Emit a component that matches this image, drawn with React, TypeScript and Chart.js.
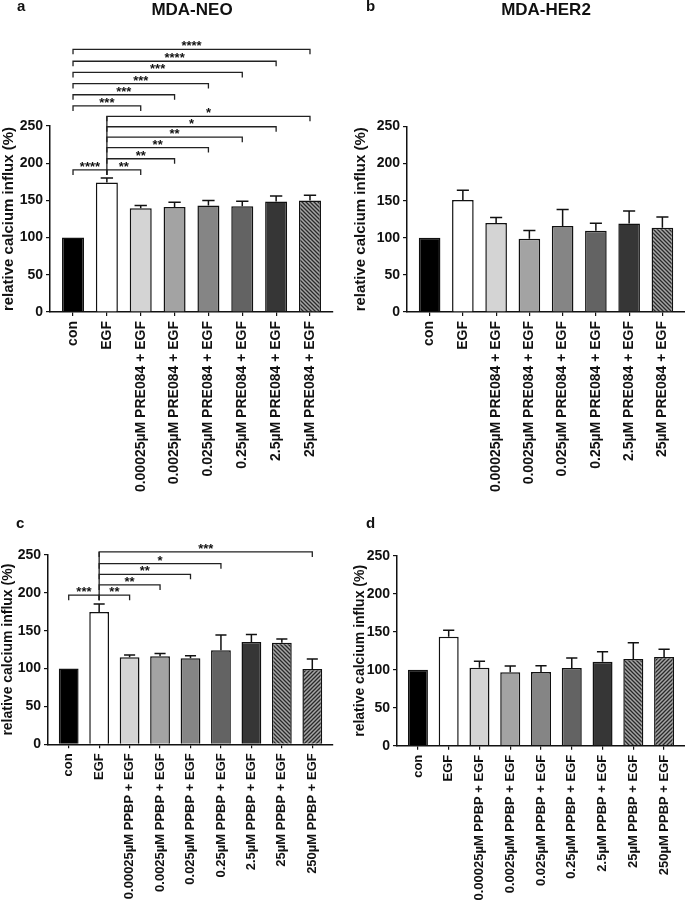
import React, { useEffect, useRef } from 'react';
import { Chart, registerables } from 'chart.js';

Chart.register(...registerables);

const FONT = "'Liberation Sans', Arial, sans-serif";

// ---------- data ----------
const labelsPre = [
  'con',
  'EGF',
  '0.00025µM PRE084 + EGF',
  '0.0025µM PRE084 + EGF',
  '0.025µM PRE084 + EGF',
  '0.25µM PRE084 + EGF',
  '2.5µM PRE084 + EGF',
  '25µM PRE084 + EGF',
];
const labelsPpbp = [
  'con',
  'EGF',
  '0.00025µM PPBP + EGF',
  '0.0025µM PPBP + EGF',
  '0.025µM PPBP + EGF',
  '0.25µM PPBP + EGF',
  '2.5µM PPBP + EGF',
  '25µM PPBP + EGF',
  '250µM PPBP + EGF',
];

const valuesA = [100, 174, 139.5, 141, 143, 142, 148.5, 150];
const errorsA = [0, 6, 3.5, 6.5, 7, 7, 7.5, 7];
const valuesB = [100, 151, 120, 98.6, 116, 109.5, 119.4, 113.5];
const errorsB = [0, 13, 7.2, 11.4, 22, 10, 16.6, 14.5];
const valuesC = [100, 174.7, 115, 116.2, 113.6, 124.1, 135.1, 134.2, 99.5];
const errorsC = [0, 10.6, 3, 3.8, 3.4, 20.3, 10, 4.8, 13.2];
const valuesD = [100, 143.7, 102.8, 96.7, 97.1, 102.4, 110.7, 114.2, 116.9];
const errorsD = [0, 8.3, 8.4, 8.3, 8.3, 13.2, 13.2, 21.6, 10.1];

// significance brackets: [from, to, value level, label]
const bracketsA: [number, number, number, string][] = [
  [0, 1, 191, '****'],
  [1, 2, 191, '**'],
  [1, 3, 206, '**'],
  [1, 4, 221, '**'],
  [1, 5, 235, '**'],
  [1, 6, 249, '*'],
  [1, 7, 263, '*'],
  [0, 2, 277, '***'],
  [0, 3, 292, '***'],
  [0, 4, 307, '***'],
  [0, 5, 322, '***'],
  [0, 6, 337, '****'],
  [0, 7, 353, '****'],
];
const bracketsC: [number, number, number, string][] = [
  [0, 1, 197, '***'],
  [1, 2, 197, '**'],
  [1, 3, 210.5, '**'],
  [1, 4, 224.5, '**'],
  [1, 5, 238.6, '*'],
  [1, 8, 254, '***'],
];
const noBrackets: [number, number, number, string][] = [];

const yMin = 0;
const yMax = 250;
const yStep = 25;
const yLabelStep = 50;
const yTitle = 'relative calcium influx (%)';

// ---------- styles ----------
const fillsPre = ['#000000', '#ffffff', '#d4d4d4', '#a3a3a3', '#858585', '#636363', '#363636', 'hatchBack'];
const fillsPpbp = ['#000000', '#ffffff', '#d4d4d4', '#a3a3a3', '#858585', '#636363', '#363636', 'hatchBack', 'hatchFwd'];

type PanelProps = {
  left: number; top: number; width: number; height: number;
  padTop: number; padRight: number; yWidth: number; xHeight: number;
  labels: string[]; values: number[]; errors: number[];
  brackets: [number, number, number, string][];
  fills: string[]; tickSize: number; xSize: number; titleSize: number; titlePad: number;
};

function makeHatch(ctx: CanvasRenderingContext2D, fwd: boolean) {
  const c = document.createElement('canvas');
  c.width = 4; c.height = 4;
  const g = c.getContext('2d')!;
  g.fillStyle = '#a6a6a6';
  g.fillRect(0, 0, 4, 4);
  g.strokeStyle = '#2a2a2a';
  g.lineWidth = 1.3;
  g.beginPath();
  if (!fwd) {
    g.moveTo(-1, -1); g.lineTo(5, 5);
    g.moveTo(-1, 3); g.lineTo(1, 5);
    g.moveTo(3, -1); g.lineTo(5, 1);
  } else {
    g.moveTo(-1, 5); g.lineTo(5, -1);
    g.moveTo(-1, 1); g.lineTo(1, -1);
    g.moveTo(3, 5); g.lineTo(5, 3);
  }
  g.stroke();
  return ctx.createPattern(c, 'repeat')!;
}

function Panel(p: PanelProps) {
  const ref = useRef<HTMLCanvasElement>(null);
  useEffect(() => {
    const canvas = ref.current!;
    const ctx = canvas.getContext('2d')!;
    const fills = p.fills.map((f) =>
      f === 'hatchBack' ? makeHatch(ctx, false) : f === 'hatchFwd' ? makeHatch(ctx, true) : f
    );
    const n = p.labels.length;
    const overlay = {
      id: 'overlay',
      afterDatasetsDraw(chart: any) {
        const c = chart.ctx as CanvasRenderingContext2D;
        const xs = chart.scales.x;
        const ys = chart.scales.y;
        const meta = chart.getDatasetMeta(0);
        c.save();
        // error bars
        c.strokeStyle = '#111';
        c.lineWidth = 1.5;
        p.values.forEach((v, i) => {
          if (!p.errors[i]) return;
          const px = xs.getPixelForValue(i);
          const y0 = ys.getPixelForValue(v);
          const y1 = ys.getPixelForValue(v + p.errors[i]);
          const half = meta.data[i].width * 0.28;
          c.beginPath();
          c.moveTo(px, y0);
          c.lineTo(px, y1);
          c.moveTo(px - half, y1);
          c.lineTo(px + half, y1);
          c.stroke();
        });
        // brackets
        c.strokeStyle = '#222';
        c.lineWidth = 1.3;
        c.fillStyle = '#111';
        c.font = `bold 13px ${FONT}`;
        c.textAlign = 'center';
        c.textBaseline = 'alphabetic';
        const leg = 5;
        p.brackets.forEach(([a, b, lvl, t]) => {
          const x1 = xs.getPixelForValue(a);
          const x2 = xs.getPixelForValue(b);
          const yy = ys.getPixelForValue(lvl);
          c.beginPath();
          c.moveTo(x1, yy + leg);
          c.lineTo(x1, yy);
          c.lineTo(x2, yy);
          c.lineTo(x2, yy + leg);
          c.stroke();
          c.fillText(t, (x1 + x2) / 2, yy + 1);
        });
        // spine joining brackets that start from EGF
        const egf = p.brackets.filter((br) => br[0] === 1).map((br) => br[2]);
        if (egf.length > 1) {
          const px = xs.getPixelForValue(1);
          c.beginPath();
          c.moveTo(px, ys.getPixelForValue(Math.max(...egf)));
          c.lineTo(px, ys.getPixelForValue(Math.min(...egf)) + leg);
          c.stroke();
        }
        c.restore();
      },
    };
    const chart = new Chart(canvas, {
      type: 'bar',
      data: {
        datasets: [
          {
            data: p.values.map((v, i) => ({ x: i, y: v })),
            backgroundColor: fills as any,
            borderColor: '#111',
            borderWidth: 1.5,
            borderSkipped: 'start',
            categoryPercentage: 1,
            barPercentage: 0.65,
          } as any,
        ],
      },
      options: {
        responsive: false,
        animation: false,
        devicePixelRatio: 1,
        layout: { padding: { top: p.padTop, right: p.padRight, left: 0, bottom: 0 } },
        plugins: {
          legend: { display: false },
          tooltip: { enabled: false },
          title: { display: false },
        },
        scales: {
          x: {
            type: 'linear',
            min: -0.68,
            max: n - 1 + 0.68,
            offset: false,
            afterBuildTicks: (s: any) => {
              s.ticks = p.labels.map((_, i) => ({ value: i }));
            },
            afterFit: (s: any) => {
              s.height = p.xHeight;
            },
            ticks: {
              autoSkip: false,
              minRotation: 90,
              maxRotation: 90,
              padding: 5,
              color: '#111',
              font: { family: FONT, size: p.xSize, weight: 'bold' },
              callback: (_v: any, i: number) => p.labels[i],
            },
            grid: {
              drawOnChartArea: false,
              drawTicks: true,
              tickLength: 4,
              color: '#111',
              lineWidth: 1.2,
              offset: false,
            },
            border: { display: true, color: '#111', width: 1.5 },
          } as any,
          y: {
            type: 'linear',
            min: yMin,
            max: yMax,
            afterFit: (s: any) => {
              s.width = p.yWidth;
            },
            ticks: {
              stepSize: yStep,
              padding: 3,
              color: '#111',
              font: { family: FONT, size: p.tickSize, weight: 'bold' },
              callback: (v: any) => (Number(v) % yLabelStep === 0 ? String(v) : ''),
            },
            grid: {
              drawOnChartArea: false,
              drawTicks: true,
              tickLength: 4,
              color: '#111',
              lineWidth: 1.2,
            },
            border: { display: true, color: '#111', width: 1.5 },
            title: {
              display: true,
              text: yTitle,
              color: '#111',
              font: { family: FONT, size: p.titleSize, weight: 'bold' },
              padding: { top: p.titlePad, bottom: 0 },
            },
          } as any,
        },
      },
      plugins: [overlay],
    });
    return () => chart.destroy();
  }, []);
  return (
    <canvas
      ref={ref}
      width={p.width}
      height={p.height}
      style={{ position: 'absolute', left: p.left, top: p.top, width: p.width, height: p.height }}
    />
  );
}

const textStyle = (left: number, top: number, size: number, extra: any = {}) => ({
  position: 'absolute' as const,
  left,
  top,
  fontFamily: FONT,
  fontWeight: 'bold' as const,
  fontSize: size,
  lineHeight: `${size}px`,
  color: '#111',
  whiteSpace: 'nowrap' as const,
  ...extra,
});

export default function App() {
  return (
    <div style={{ position: 'absolute', left: 0, top: 0, width: 685, height: 905, background: '#fff', overflow: 'hidden' }}>
      <Panel left={0} top={0} width={340} height={500} padTop={126} padRight={7} yWidth={50} xHeight={188}
        labels={labelsPre} values={valuesA} errors={errorsA} brackets={bracketsA} fills={fillsPre}
        tickSize={14} xSize={14} titleSize={15} titlePad={0} />
      <Panel left={340} top={0} width={345} height={500} padTop={126.5} padRight={0} yWidth={67} xHeight={188}
        labels={labelsPre} values={valuesB} errors={errorsB} brackets={noBrackets} fills={fillsPre}
        tickSize={14} xSize={14} titleSize={15} titlePad={12} />
      <Panel left={0} top={500} width={340} height={405} padTop={55} padRight={7} yWidth={48} xHeight={160.7}
        labels={labelsPpbp} values={valuesC} errors={errorsC} brackets={bracketsC} fills={fillsPpbp}
        tickSize={14} xSize={13} titleSize={14} titlePad={0} />
      <Panel left={340} top={500} width={345} height={405} padTop={56} padRight={0} yWidth={57} xHeight={159.3}
        labels={labelsPpbp} values={valuesD} errors={errorsD} brackets={noBrackets} fills={fillsPpbp}
        tickSize={14} xSize={13} titleSize={14} titlePad={11.6} />
      <div style={textStyle(17, -2.5, 15)}>a</div>
      <div style={textStyle(366, -2.5, 15)}>b</div>
      <div style={textStyle(16, 515, 15)}>c</div>
      <div style={textStyle(366, 515, 15)}>d</div>
      <div style={textStyle(92, 1, 17, { width: 200, textAlign: 'center' })}>MDA-NEO</div>
      <div style={textStyle(446, 1, 17, { width: 200, textAlign: 'center' })}>MDA-HER2</div>
    </div>
  );
}
